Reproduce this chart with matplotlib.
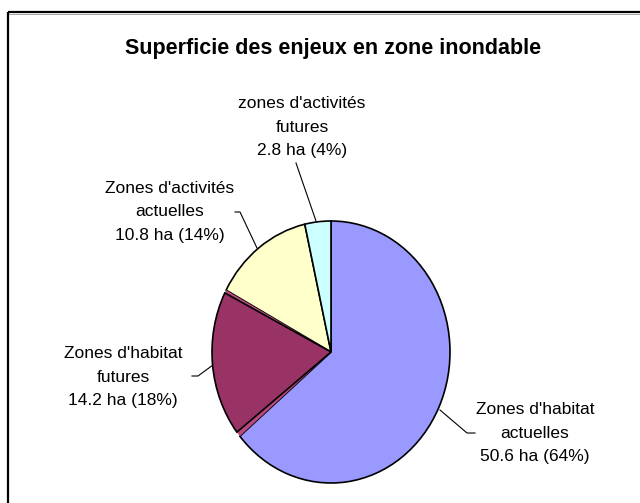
import matplotlib.pyplot as plt

# data (hectares), clockwise from the top
# two thin unlabelled slices sit on each side of "habitat futures"
labels = ["Zones d'habitat\nactuelles", "", "Zones d'habitat\nfutures", "",
          "Zones d'activités\nactuelles", "zones d'activités\nfutures"]
surface = [50.6, 0.5, 14.2, 0.3, 10.8, 2.8]
colors = ['#9999FF', '#B8497E', '#993366', '#B8497E', '#FFFFCC', '#CCFFFF']

total = sum(surface)

plt.rcParams['font.family'] = ['Liberation Sans', 'DejaVu Sans']

W, H = 640, 503
fig = plt.figure(figsize=(W / 100, H / 100), dpi=100)

# background axes in pixel coordinates (frame, title, labels, leader lines)
bg = fig.add_axes([0, 0, 1, 1])
bg.set_xlim(0, W)
bg.set_ylim(H, 0)
bg.axis('off')
bg.plot([8, W], [12, 12], color='black', lw=1.6, solid_capstyle='butt')
bg.plot([8, W], [13.8, 13.8], color='#999999', lw=0.6, solid_capstyle='butt')
bg.plot([8, 8], [12, H], color='black', lw=1.6, solid_capstyle='butt')

bg.text(333, 48, "Superficie des enjeux en zone inondable", ha='center', va='center',
        fontsize=15.5, fontweight='bold')

# pie drawn as an ellipse centred at (331, 352), radii 119 x 131 px
cx, cy, rx, ry = 331, 352, 119, 131
pie_ax = fig.add_axes([(cx - rx) / W, (H - cy - ry) / H, 2 * rx / W, 2 * ry / H])
wedges, _ = pie_ax.pie(surface, colors=colors, startangle=90, counterclock=False, radius=1,
                       wedgeprops=dict(edgecolor='black', linewidth=1.2))
for w, lab in zip(wedges, labels):
    if lab == "":
        w.set_edgecolor('none')
        w.set_zorder(3)
wedges[2].set_zorder(4)
pie_ax.set_aspect('auto')
pie_ax.set_xlim(-1, 1)
pie_ax.set_ylim(-1, 1)
pie_ax.axis('off')

# label positions (pixel centres) and leader lines, for the labelled slices
label_pos = {0: (535, 433), 2: (123, 377), 4: (170, 212), 5: (302, 127)}
leaders = {
    0: [(440, 410), (467, 433), (475, 433)],
    2: [(192, 376), (198, 376), (213, 365)],
    4: [(235, 212), (240, 212), (257, 248)],
    5: [(296, 163), (316, 221)],
}
for i, (x, y) in label_pos.items():
    v = surface[i]
    t = f"{labels[i]}\n{v} ha ({round(100 * v / total)}%)"
    bg.text(x, y, t, ha='center', va='center', fontsize=12.5, linespacing=1.7)
    xs, ys = zip(*leaders[i])
    bg.plot(xs, ys, color='black', lw=0.8)

fig.savefig('out.png', dpi=100)
